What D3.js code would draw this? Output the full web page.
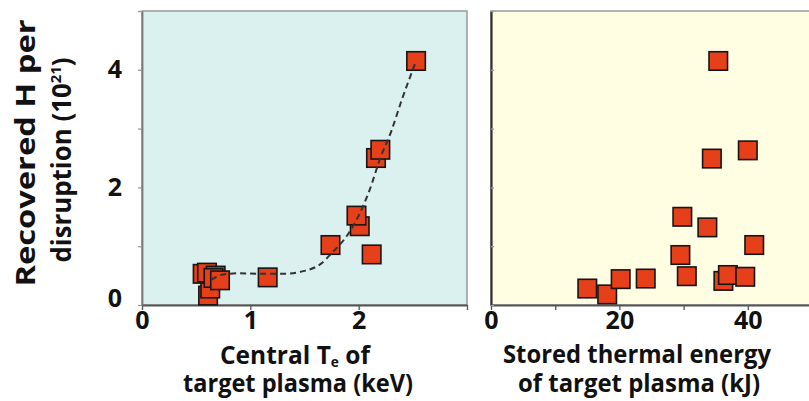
<!DOCTYPE html>
<html>
<head>
<meta charset="utf-8">
<script src="https://cdn.jsdelivr.net/npm/d3@7"></script>
<style>
  body { margin: 0; background: #fff; }
  svg text { font-family: 'Open Sans', 'DejaVu Sans', sans-serif; font-weight: 700; fill: #111; }
</style>
</head>
<body>
<svg width="809" height="401"></svg>
<script>
// central electron temperature (keV) vs recovered H (1e21)
const teKeV = [0.61, 0.63, 0.56, 0.60, 0.68, 0.66, 0.72, 1.16, 1.74, 2.12, 2.01, 1.98, 2.16, 2.20, 2.53];
const hLeft = [0.16, 0.28, 0.53, 0.55, 0.50, 0.46, 0.42, 0.47, 1.02, 0.86, 1.34, 1.52, 2.50, 2.64, 4.15];

// stored thermal energy (kJ) vs recovered H (1e21)
const energyKJ = [15.0, 18.1, 20.2, 24.1, 29.5, 30.5, 29.8, 33.7, 34.4, 35.4, 36.2, 36.9, 39.6, 40.0, 41.0];
const hRight = [0.28, 0.18, 0.44, 0.45, 0.85, 0.49, 1.50, 1.32, 2.49, 4.15, 0.41, 0.51, 0.48, 2.63, 1.02];

// dashed trend line on the left panel
const fitTe = [0.64, 0.75, 0.9, 1.1, 1.3, 1.5, 1.65, 1.75, 1.9, 2.0, 2.1, 2.2, 2.3, 2.4, 2.52];
const fitH = [0.43, 0.52, 0.54, 0.53, 0.53, 0.58, 0.70, 0.88, 1.20, 1.52, 1.95, 2.50, 2.95, 3.50, 4.10];

const leftTicks = [0, 1, 2, 3];
const leftTickLabels = ['0', '1', '2', ''];
const rightTicks = [0, 10, 20, 30, 40, 50];
const rightTickLabels = ['0', '', '20', '', '40', ''];
const yTicks = [0, 1, 2, 3, 4, 5];
const yTickLabels = ['0', '', '2', '', '4', ''];

const svg = d3.select('svg');

const plotTop = 11, plotBottom = 305;
const xLeft = d3.scaleLinear().domain([0, 3]).range([142, 467]);
const xRight = d3.scaleLinear().domain([0, 50]).range([491, 812]);
const yScale = d3.scaleLinear().domain([0, 5]).range([plotBottom, plotTop]);

const fitText = (sel, w) => sel.attr('textLength', w).attr('lengthAdjust', 'spacingAndGlyphs');

// panel backgrounds
svg.append('rect')
	.attr('x', xLeft(0)).attr('y', plotTop)
	.attr('width', xLeft(3) - xLeft(0)).attr('height', plotBottom - plotTop)
	.attr('fill', '#daf1ef')
	.attr('stroke', '#9a9a9a').attr('stroke-width', 1.5);

svg.append('rect')
	.attr('x', xRight(0)).attr('y', plotTop)
	.attr('width', xRight(50) - xRight(0)).attr('height', plotBottom - plotTop)
	.attr('fill', '#fffde2')
	.attr('stroke', '#9a9a9a').attr('stroke-width', 1.5);

// axes
const styleAxis = (g, col) => {
	g.select('.domain').attr('stroke', col).attr('stroke-width', 1.8);
	g.selectAll('.tick line').attr('stroke', '#555').attr('stroke-width', 1.3);
	g.selectAll('.tick text')
		.style('font-size', '25px').style('font-family', "'Open Sans', sans-serif")
		.style('font-weight', 700).attr('fill', '#111');
};

const gxL = svg.append('g')
	.attr('transform', `translate(0, ${plotBottom})`)
	.call(d3.axisBottom(xLeft).tickValues(leftTicks)
		.tickFormat((d, i) => leftTickLabels[i]).tickSize(5).tickSizeOuter(0).tickPadding(1));
styleAxis(gxL, '#555');

const gxR = svg.append('g')
	.attr('transform', `translate(0, ${plotBottom})`)
	.call(d3.axisBottom(xRight).tickValues(rightTicks)
		.tickFormat((d, i) => rightTickLabels[i]).tickSize(5).tickSizeOuter(0).tickPadding(1));
styleAxis(gxR, '#555');

const gyL = svg.append('g')
	.attr('transform', `translate(${xLeft(0)}, 0)`)
	.call(d3.axisLeft(yScale).tickValues(yTicks)
		.tickFormat((d, i) => yTickLabels[i]).tickSize(4).tickSizeOuter(0).tickPadding(16));
styleAxis(gyL, '#777');
gyL.selectAll('.tick line').attr('stroke', '#999');
gyL.selectAll('.tick').filter(d => d === 0).select('text').attr('dy', '0.05em');

const gyR = svg.append('g')
	.attr('transform', `translate(${xRight(0)}, 0)`)
	.call(d3.axisRight(yScale).tickValues(yTicks).tickFormat('').tickSize(3).tickSizeOuter(0));
styleAxis(gyR, '#333');
gyR.select('.domain').attr('stroke-width', 2.2);
gyR.selectAll('.tick line').attr('stroke', '#999');

// square markers
const size = 18.5;
const drawSquares = (xs, ys, xScale) => {
	const g = svg.append('g');
	g.selectAll('rect').data(xs)
		.enter().append('rect')
			.attr('x', d => xScale(d) - size / 2)
			.attr('y', (d, i) => yScale(ys[i]) - size / 2)
			.attr('width', size)
			.attr('height', size)
			.attr('fill', '#e6401a')
			.attr('stroke', '#151515')
			.attr('stroke-width', 1.6);
};
drawSquares(teKeV, hLeft, xLeft);
drawSquares(energyKJ, hRight, xRight);

// trend line (sits over the markers in the figure)
const line = d3.line()
	.x((d, i) => xLeft(fitTe[i]))
	.y(d => yScale(d))
	.curve(d3.curveMonotoneX);

svg.append('path')
	.attr('d', line(fitH))
	.attr('fill', 'none')
	.attr('stroke', '#333')
	.attr('stroke-width', 2)
	.attr('stroke-dasharray', '6,4');

// axis titles
const yt = svg.append('g').attr('font-size', 26);
fitText(yt.append('text')
	.attr('transform', 'translate(35, 153) rotate(-90)')
	.attr('text-anchor', 'middle')
	.text('Recovered H per'), 267);

const yt2 = yt.append('text')
	.attr('transform', 'translate(71, 160) rotate(-90)')
	.attr('text-anchor', 'middle');
yt2.append('tspan').text('disruption (10');
yt2.append('tspan').attr('font-size', 15).attr('dy', -10).text('21');
yt2.append('tspan').attr('dy', 10).text(')');
fitText(yt2, 205);

const xt = svg.append('g').attr('font-size', 25).attr('text-anchor', 'middle');
const xl1 = xt.append('text').attr('x', 295).attr('y', 364);
xl1.append('tspan').text('Central T');
xl1.append('tspan').attr('font-size', 14).attr('dy', 3).text('e');
xl1.append('tspan').attr('dy', -3).text(' of');
fitText(xl1, 150);
fitText(xt.append('text').attr('x', 298).attr('y', 392).text('target plasma (keV)'), 230);
fitText(xt.append('text').attr('x', 637).attr('y', 363).text('Stored thermal energy'), 268);
fitText(xt.append('text').attr('x', 639).attr('y', 392).text('of target plasma (kJ)'), 242);
</script>
</body>
</html>
